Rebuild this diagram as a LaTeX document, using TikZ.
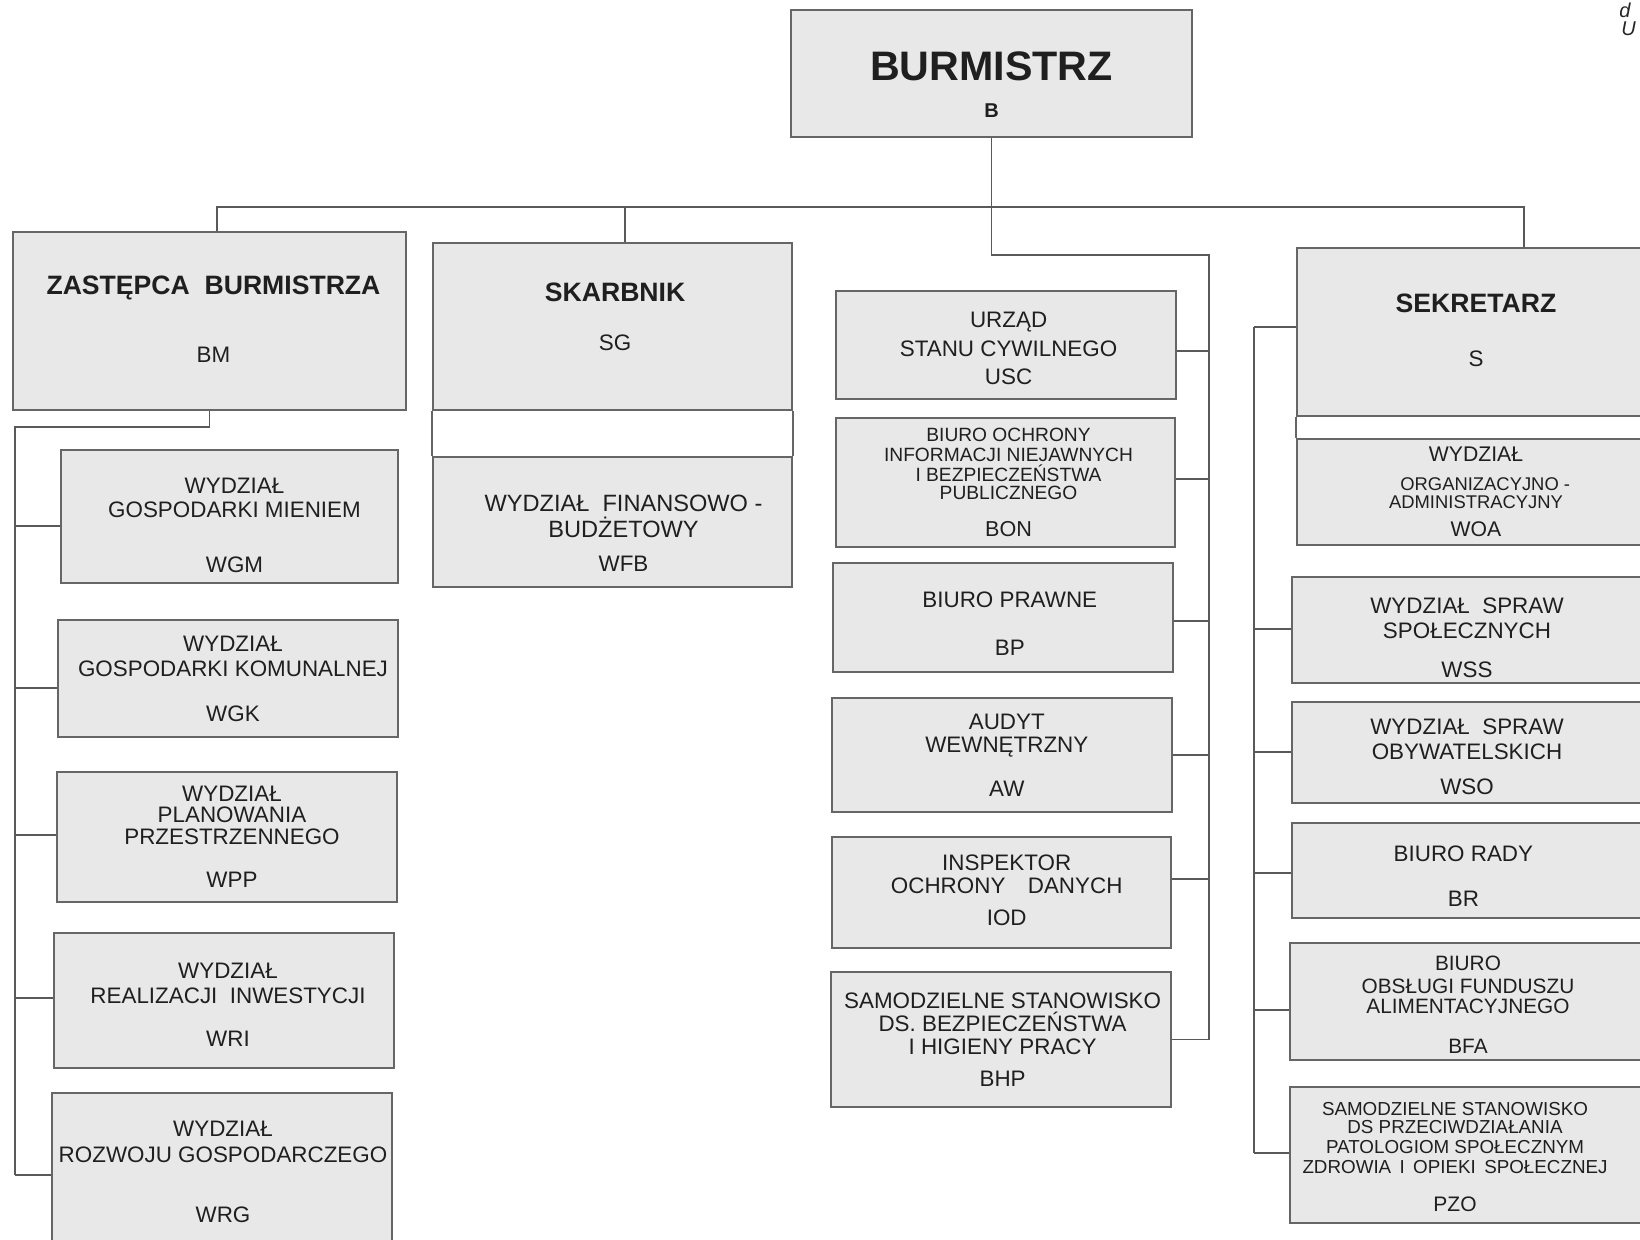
\documentclass[tikz,border=0pt]{standalone}
\usepackage{fontspec}
\setmainfont{Liberation Sans}
\usetikzlibrary{calc}

\newcommand{\setfs}[1]{\fontsize{#1}{11.5}\selectfont\lineskiplimit=-50pt\relax}
\newcommand{\hdfont}{\fontsize{13.3}{11.5}\selectfont\bfseries}

\begin{document}
\begin{tikzpicture}[x=0.5pt, y=-0.5pt,
        box/.style={draw=black!60, fill=black!9, line width=0.9pt, inner sep=0pt},
        boxsize/.style 2 args={minimum width=#1*0.5pt, minimum height=#2*0.5pt},
        txt/.style={inner sep=0pt, align=center, text=black!88, font=\setfs{11.2}},
        link/.style={draw=black!65, line width=0.6pt}]

        \useasboundingbox (0,0) rectangle (1640,1240);

        % Head of the office and the three deputies

        \node[box, boxsize={401}{127}] (burmistrz) at (991.5,73.5) {};
        \node[box, boxsize={393}{178}] (zastepca) at (209.5,321) {};
        \node[box, boxsize={359}{167}] (skarbnik) at (612.5,326.5) {};
        \node[box, boxsize={359}{130}] (wfb) at (612.5,522) {};
        \node[box, boxsize={358}{168}] (sekretarz) at (1476,332) {};
        \node[box, boxsize={358}{106}] (woa) at (1476,492) {};

        \node[txt] (burmistrz-t) at ([yshift=-5.5pt]burmistrz.center)
            {{\fontsize{20.6}{11.5}\selectfont\bfseries BURMISTRZ}\\[7pt]{\fontsize{10}{11.5}\selectfont\bfseries B}};
        \node[txt] (zastepca-t) at ([xshift=2pt, yshift=1pt]zastepca.center) {{\hdfont ZASTĘPCA\ \ BURMISTRZA}\\[22.5pt]BM};
        \node[txt] (skarbnik-t) at ([xshift=1.3pt, yshift=4.75pt]skarbnik.center) {{\hdfont SKARBNIK}\\[13pt]SG};
        \node[txt] (wfb-t) at ([xshift=5.5pt, yshift=-5.75pt]wfb.center)
            {{\setfs{11.8}WYDZIAŁ\ \ FINANSOWO -}\\[1.5pt]{\setfs{11.8}BUDŻETOWY}\\[5.5pt]WFB};
        \node[txt] (sekretarz-t) at ([yshift=1pt]sekretarz.center) {{\hdfont SEKRETARZ}\\[15.5pt]S};
        \node[txt, font=\setfs{10.6}] (woa-t) at (woa.center)
            {WYDZIAŁ\\[3pt]{\setfs{9.2}\hspace*{1em}ORGANIZACYJNO -}\\[-2.8pt]{\setfs{9.2}ADMINISTRACYJNY}\\[2.5pt]WOA};

        % White strips between the two parts of a box
        \draw[draw=black!60, line width=0.9pt] (skarbnik.south west) -- (wfb.north west)
            (skarbnik.south east) -- (wfb.north east);
        \draw[draw=black!60, line width=0.9pt] (sekretarz.south west) -- (woa.north west);

        % Units under the mayor

        \node[box, boxsize={340}{108}] (usc) at (1006,345) {};
        \node[box, boxsize={339}{129}] (bon) at (1005.5,482.5) {};
        \node[box, boxsize={340}{109}] (bp) at (1003,617.5) {};
        \node[box, boxsize={340}{114}] (aw) at (1002,755) {};
        \node[box, boxsize={339}{111}] (iod) at (1001.5,892.5) {};
        \node[box, boxsize={340}{135}] (bhp) at (1001,1039.5) {};

        \node[txt] (usc-t) at ([xshift=1.3pt, yshift=-1.75pt]usc.center) {URZĄD\\[3pt]STANU CYWILNEGO\\[2.5pt]USC};
        \node[txt, font=\setfs{9.6}] (bon-t) at ([xshift=1.5pt]bon.center)
            {BIURO OCHRONY\\[-1.5pt]INFORMACJI NIEJAWNYCH\\[-1.5pt]I BEZPIECZEŃSTWA\\[-2.5pt]PUBLICZNEGO\\[7pt]{\setfs{10.8}BON}};
        \node[txt] (bp-t) at ([xshift=3.4pt, yshift=-3pt]bp.center) {BIURO PRAWNE\\[12.5pt]BP};
        \node[txt] (aw-t) at ([xshift=2.4pt]aw.center) {AUDYT\\[0pt]WEWNĘTRZNY\\[10.5pt]AW};
        \node[txt] (iod-t) at ([xshift=2.6pt, yshift=1.25pt]iod.center) {INSPEKTOR\\[0pt]OCHRONY\quad DANYCH\\[4.5pt]IOD};
        \node[txt] (bhp-t) at ([xshift=0.8pt]bhp.center)
            {SAMODZIELNE STANOWISKO\\[0pt]DS. BEZPIECZEŃSTWA\\[0pt]I HIGIENY PRACY\\[4.5pt]BHP};

        % Units under the secretary

        \node[box, boxsize={350}{106}] (wss) at (1467,630) {};
        \node[box, boxsize={350}{101}] (wso) at (1467,752.5) {};
        \node[box, boxsize={350}{95}] (br) at (1467,870.5) {};
        \node[box, boxsize={352}{117}] (bfa) at (1466,1001.5) {};
        \node[box, boxsize={352}{136}] (pzo) at (1466,1155) {};

        \node[txt] (wss-t) at ([yshift=-3.75pt]wss.center) {WYDZIAŁ\ \ SPRAW\\[1pt]SPOŁECZNYCH\\[8pt]WSS};
        \node[txt] (wso-t) at ([yshift=-2pt]wso.center) {WYDZIAŁ\ \ SPRAW\\[1pt]OBYWATELSKICH\\[6pt]WSO};
        \node[txt] (br-t) at ([xshift=-1.8pt, yshift=-2.75pt]br.center) {BIURO RADY\\[11pt]BR};
        \node[txt, font=\setfs{10.4}] (bfa-t) at ([xshift=1pt, yshift=-1.75pt]bfa.center)
            {BIURO\\[0pt]OBSŁUGI FUNDUSZU\\[-1.5pt]ALIMENTACYJNEGO\\[8.5pt]BFA};
        \node[txt, font=\setfs{9.4}] (pzo-t) at ([xshift=-5.5pt, yshift=-1.25pt]pzo.center)
            {SAMODZIELNE STANOWISKO\\[-2.5pt]DS PRZECIWDZIAŁANIA\\[-1.5pt]PATOLOGIOM SPOŁECZNYM\\[-1.5pt]ZDROWIA\ \,I\ \,OPIEKI\ \,SPOŁECZNEJ\\[7.5pt]{\setfs{10.5}PZO}};

        % Units under the deputy mayor

        \node[box, boxsize={337}{133}] (wgm) at (229.5,516.5) {};
        \node[box, boxsize={340}{117}] (wgk) at (228,678.5) {};
        \node[box, boxsize={340}{130}] (wpp) at (227,837) {};
        \node[box, boxsize={340}{135}] (wri) at (224,1000.5) {};
        \node[box, boxsize={340}{157}] (wrg) at (222,1171.5) {};

        \node[txt] (wgm-t) at ([xshift=2.5pt, yshift=-4.25pt]wgm.center) {WYDZIAŁ\\[0.5pt]GOSPODARKI MIENIEM\\[16pt]WGM};
        \node[txt] (wgk-t) at ([xshift=2.5pt]wgk.center) {WYDZIAŁ\\[1pt]GOSPODARKI KOMUNALNEJ\\[11pt]WGK};
        \node[txt] (wpp-t) at ([xshift=2.5pt]wpp.center) {WYDZIAŁ\\[-1pt]PLANOWANIA\\[-0.5pt]PRZESTRZENNEGO\\[10pt]WPP};
        \node[txt] (wri-t) at ([xshift=2pt, yshift=-2pt]wri.center) {WYDZIAŁ\\[1pt]REALIZACJI\ \ INWESTYCJI\\[10pt]WRI};
        \node[txt] (wrg-t) at ([xshift=0.5pt]wrg.center) {WYDZIAŁ\\[1.5pt]ROZWOJU GOSPODARCZEGO\\[18.5pt]WRG};

        % Cut-off header at the top right
        \node[anchor=north west, inner sep=0pt, text=black!85, font=\fontsize{10}{11}\selectfont\itshape] (hdr-d) at (1619,3) {d};
        \node[anchor=north west, inner sep=0pt, text=black!85, font=\fontsize{10}{11}\selectfont\itshape] (hdr-u) at (1621,21) {U};

        % Connecting lines

        \coordinate (busL) at (217,207);
        \coordinate (busS) at (625,207);
        \coordinate (busR) at (1524,207);
        \coordinate (mbus) at (1209,255);
        \coordinate (lbus) at (15,427);
        \coordinate (rbus) at (1254,327);

        \draw[link] (busL |- zastepca.north) -- (busL) -- (busR) -- (busR |- sekretarz.north);
        \draw[link] (busS) -- (busS |- skarbnik.north);

        \foreach \n/\dy in {usc/-3pt, bon/1.75pt, bp/-1.75pt, aw/0pt, iod/6.75pt, bhp/0pt}
            \draw[link] ([yshift=\dy]\n.east) coordinate (\n-out) -- (\n-out -| mbus);
        \draw[link] (burmistrz.south) |- (mbus) -- (mbus |- bhp-out);

        \foreach \n/\dy in {wgm/-4.75pt, wgk/-4.75pt, wpp/1pt, wri/1.25pt, wrg/-1.75pt}
            \draw[link] ([yshift=\dy]\n.west) coordinate (\n-in) -- (\n-in -| lbus);
        \draw[link] (zastepca.south) |- (lbus) -- (lbus |- wrg-in);

        \foreach \n/\dy in {sekretarz/2.5pt, wss/0.5pt, wso/0.25pt, br/-1.25pt, bfa/-4.25pt, pzo/1pt}
            \draw[link] ([yshift=\dy]\n.west) coordinate (\n-in) -- (\n-in -| rbus);
        \draw[link] (rbus |- sekretarz-in) -- (rbus |- pzo-in);
    \end{tikzpicture}
\end{document}
